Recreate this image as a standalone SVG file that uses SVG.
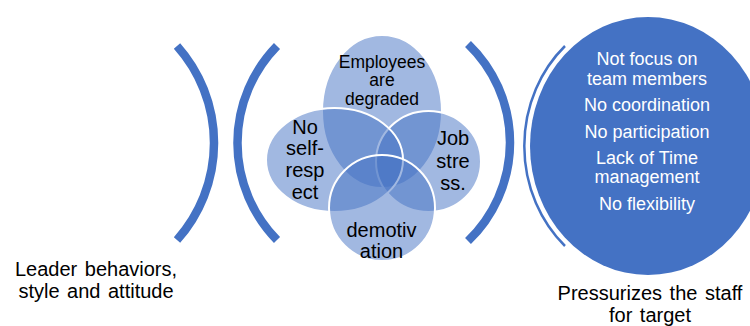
<svg xmlns="http://www.w3.org/2000/svg" width="750" height="326" viewBox="0 0 750 326">
<style>
.arc{fill:none;stroke:#4472C4;stroke-width:8.5;stroke-linecap:butt}
.venn{fill:#4472C4;fill-opacity:0.5;stroke:#FFFFFF;stroke-width:2}
.t{font-family:"Liberation Sans",Arial,Helvetica,sans-serif;text-anchor:middle;fill:#000000}
.t18{font-size:17.5px}
.t20{font-size:20px}
.w{fill:#FFFFFF;font-size:18px}
.lbl{font-size:20px;word-spacing:2px}
</style>
<rect width="750" height="326" fill="#FFFFFF"/>
<g id="connectors">
  <path class="arc" d="M177,46 A145.6,145.6 0 0 1 177,240"/>
  <path class="arc" d="M277,46 A138.8,138.8 0 0 0 277,240"/>
  <path class="arc" d="M468,44 A136.5,136.5 0 0 1 468,241"/>
</g>
<g id="node-employees">
  <ellipse class="venn" cx="382" cy="111.5" rx="60" ry="76.5"/>
  <text class="t t18" x="382" y="67.5">Employees</text>
  <text class="t t18" x="382" y="86">are</text>
  <text class="t t18" x="382" y="104.5">degraded</text>
</g>
<g id="node-jobstress">
  <ellipse class="venn" cx="428.5" cy="161.5" rx="52.5" ry="50.5"/>
  <text class="t t20" x="453" y="145">Job</text>
  <text class="t t20" x="453" y="168">stre</text>
  <text class="t t20" x="453" y="190">ss.</text>
</g>
<g id="node-selfrespect">
  <ellipse class="venn" cx="334.5" cy="160" rx="68.5" ry="52"/>
  <text class="t t20" x="305" y="134">No</text>
  <text class="t t20" x="305" y="155">self-</text>
  <text class="t t20" x="305" y="177">resp</text>
  <text class="t t20" x="305" y="199">ect</text>
</g>
<g id="node-demotivation">
  <ellipse class="venn" cx="382" cy="208" rx="53" ry="53"/>
  <text class="t t20" x="381.5" y="237">demotiv</text>
  <text class="t t20" x="381.5" y="258">ation</text>
</g>
<g id="node-pressure">
  <path d="M565,46 A124,135 0 0 0 565,246" fill="none" stroke="#4472C4" stroke-width="2.5"/>
  <ellipse cx="648" cy="146" rx="118" ry="129" fill="#4472C4"/>
  <text class="t w" x="647" y="65">Not focus on</text>
  <text class="t w" x="647" y="85">team members</text>
  <text class="t w" x="647" y="111">No coordination</text>
  <text class="t w" x="647" y="138">No participation</text>
  <text class="t w" x="647" y="164">Lack of Time</text>
  <text class="t w" x="647" y="183">management</text>
  <text class="t w" x="647" y="210">No flexibility</text>
</g>
<g id="label-leader">
  <text class="t lbl" x="96" y="276">Leader behaviors,</text>
  <text class="t lbl" x="96" y="298">style and attitude</text>
</g>
<g id="label-pressurizes">
  <text class="t lbl" x="650" y="300">Pressurizes the staff</text>
  <text class="t lbl" x="650" y="322">for target</text>
</g>
</svg>
